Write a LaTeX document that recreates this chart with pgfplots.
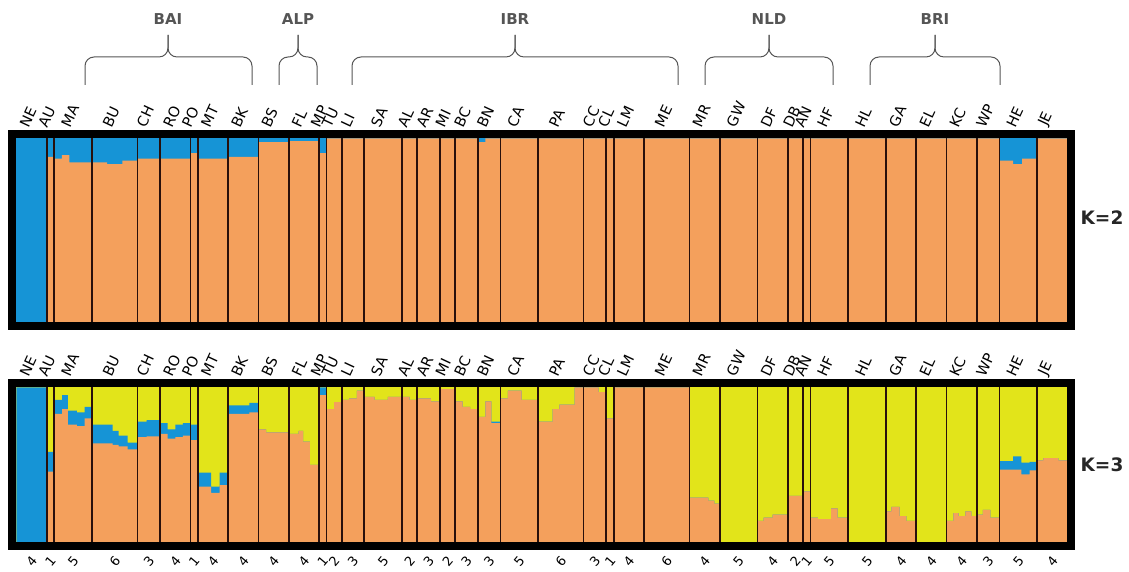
\documentclass[border=0pt]{standalone}
\usepackage{pgfplots}
\pgfplotsset{compat=1.18}
\usepackage{pgfplotstable}
\usepackage{fontspec}
\setmainfont{DejaVu Sans}
\definecolor{cblue}{RGB}{22,148,214}
\definecolor{corange}{RGB}{244,160,92}
\definecolor{cyellow}{RGB}{226,228,26}
\definecolor{csep}{RGB}{40,16,12}
\definecolor{cgray}{RGB}{85,85,85}

% K=2: x = start of segment, o = orange share (blue above)
\pgfplotstableread{
x o
0 0
4 0.90
5 0.89
6 0.91
7 0.87
10 0.87
12 0.86
14 0.88
16 0.89
19 0.89
23 0.92
24 0.89
28 0.90
32 0.98
36 0.985
40 0.92
41 1
61 0.98
62 1
130 0.88
131.8 0.86
133 0.89
135 1
139 1
}\kTwo

% K=3: o = orange top, ob = orange+blue top (yellow above)
\pgfplotstableread{
x o ob
0 0 1
4 0.457 0.585
5 0.83 0.92
6.05 0.86 0.95
6.8 0.76 0.85
8 0.75 0.84
9 0.80 0.875
10 0.64 0.76
12.7 0.63 0.72
13.5 0.62 0.69
14.7 0.60 0.645
16 0.68 0.78
17.2 0.685 0.79
19 0.70 0.77
20 0.67 0.73
21 0.68 0.76
22 0.69 0.77
23 0.66 0.76
24 0.36 0.45
25.75 0.32 0.36
26.85 0.37 0.45
28 0.83 0.885
30.8 0.84 0.90
32 0.73 0.73
33 0.71 0.71
36 0.70 0.70
37.3 0.72 0.72
37.9 0.65 0.65
38.8 0.50 0.50
40 0.95 1
41 0.86 0.86
42 0.905 0.905
43 0.92 0.92
44 0.93 0.93
45 0.98 0.98
46 0.94 0.94
47.35 0.92 0.92
49.1 0.94 0.94
51 0.94 0.94
52 0.92 0.92
53 0.93 0.93
54.8 0.91 0.91
56 0.99 0.99
58 0.91 0.91
59 0.875 0.875
60 0.86 0.86
61 0.81 0.81
62 0.91 0.91
62.8 0.77 0.78
64 0.93 0.93
65 0.98 0.98
66.8 0.92 0.92
69 0.78 0.78
70.9 0.86 0.86
71.8 0.89 0.89
73.8 1 1
75 1 1
77 0.97 0.97
78 0.80 0.80
79 1 1
83 1 1
89 0.29 0.29
91.5 0.27 0.27
92.3 0.25 0.25
93 0 0
98 0.14 0.14
98.8 0.16 0.16
100 0.18 0.18
102 0.30 0.30
104 0.33 0.33
105 0.16 0.16
106 0.15 0.15
107.75 0.22 0.22
108.6 0.16 0.16
110 0 0
115 0.20 0.20
115.7 0.23 0.23
116.8 0.17 0.17
117.7 0.14 0.14
119 0 0
123 0.14 0.14
123.9 0.19 0.19
124.6 0.17 0.17
125.5 0.20 0.20
126.3 0.17 0.17
127 0.18 0.18
127.8 0.21 0.21
128.8 0.16 0.16
130 0.47 0.525
131.8 0.47 0.555
132.9 0.44 0.515
134 0.465 0.52
135 0.53 0.53
135.8 0.545 0.545
137.8 0.53 0.53
139 0.53 0.53
}\kThree

\def\popticks{2,4.5,7.5,13,17.5,21,23.5,26,30,34,38,40.5,42,44.5,48.5,52,54.5,57,59.5,62.5,66.5,72,76.5,78.5,81,86,91,95.5,100,103,104.5,107.5,112.5,117,121,125,128.5,132.5,137}
\def\popnames{NE,AU,MA,BU,CH,RO,PO,MT,BK,BS,FL,MP,TU,LI,SA,AL,AR,MI,BC,BN,CA,PA,CC,CL,LM,ME,MR,GW,DF,DB,AN,HF,HL,GA,EL,KC,WP,HE,JE}
\def\sepcoords{(4,1.1) (5,1.1) (10,1.1) (16,1.1) (19,1.1) (23,1.1) (24,1.1) (28,1.1) (32,1.1) (36,1.1) (40,1.1) (41,1.1) (43,1.1) (46,1.1) (51,1.1) (53,1.1) (56,1.1) (58,1.1) (61,1.1) (64,1.1) (69,1.1) (75,1.1) (78,1.1) (79,1.1) (83,1.1) (89,1.1) (93,1.1) (98,1.1) (102,1.1) (104,1.1) (105,1.1) (110,1.1) (115,1.1) (119,1.1) (123,1.1) (127,1.1) (130,1.1) (135,1.1)}

\pgfplotsset{
  structure/.style={
    scale only axis, width=1059pt,
    xmin=-0.529, xmax=139.529,
    axis line style={line width=8pt},
    axis on top,
    major tick length=0pt,
    ytick=\empty,
    xtick/.expanded={\popticks},
    clip=true,
  },
  names/.style={
    xticklabels/.expanded={\popnames},
    xticklabel pos=upper,
    xticklabel style={font=\fontsize{14.5}{14.5}\selectfont, inner sep=0pt, xshift=-3pt, yshift=6pt, anchor=south west, rotate=65},
  },
}

\begin{document}
\begin{tikzpicture}[x=1pt,y=1pt]
\useasboundingbox (0,0) rectangle (1129,572);

% K=2 panel
\begin{axis}[structure, names, at={(12.5pt,245.5pt)}, anchor=south west,
  height=192pt, ymin=-0.0217, ymax=1.0217]
  \addplot[fill=cblue, draw=none] coordinates {(0,1) (139,1)} \closedcycle;
  \addplot[const plot, fill=corange, draw=none] table[x=x,y=o]{\kTwo} \closedcycle;
  \addplot[ycomb, csep, line width=1.8pt, mark=none] coordinates {\sepcoords};
\end{axis}

% K=3 panel
\begin{axis}[structure, names, at={(12.5pt,25.5pt)}, anchor=south west,
  height=163pt, ymin=-0.0258, ymax=1.0258]
  \addplot[fill=cyellow, draw=none] coordinates {(0,1) (139,1)} \closedcycle;
  \addplot[const plot, fill=cblue, draw=none] table[x=x,y=ob]{\kThree} \closedcycle;
  \addplot[const plot, fill=corange, draw=none] table[x=x,y=o]{\kThree} \closedcycle;
  \addplot[ycomb, csep, line width=1.8pt, mark=none] coordinates {\sepcoords};
\end{axis}

% sample sizes
\begin{axis}[structure, at={(12.5pt,25.5pt)}, anchor=south west,
  height=163pt, ymin=0, ymax=1, axis line style={draw=none},
  xticklabels={4,1,5,6,3,4,1,4,4,4,4,1,2,3,5,2,3,2,3,3,5,6,3,1,4,6,4,5,4,2,1,5,5,4,4,4,3,5,4},
  xticklabel pos=lower,
  xticklabel style={font=\fontsize{13}{13}\selectfont, inner sep=0pt, yshift=-14.5pt, anchor=center, rotate=50}]
  \addplot[draw=none] coordinates {(0,0.5)};
\end{axis}

% group braces
\begin{scope}[cgray, line width=1pt, rounded corners=9pt]
  \foreach \a/\m/\b in {85/168/252, 279/298/317, 352/515/678, 705/769/833, 870/935/1000}{
    \draw (\a,487) -- (\a,515) -- (\m,515) -- (\m,537);
    \draw (\b,487) -- (\b,515) -- (\m,515) -- (\m,537);
  }
\end{scope}
\foreach \m/\t in {168/BAI, 298/ALP, 515/IBR, 769/NLD, 935/BRI}{
  \node[cgray, font=\bfseries\fontsize{15}{15}\selectfont] at (\m,553) {\t};
}

\node[font=\bfseries\fontsize{18.5}{18.5}\selectfont, color=black!85] at (1102,354) {K=2};
\node[font=\bfseries\fontsize{18.5}{18.5}\selectfont, color=black!85] at (1102,107) {K=3};
\end{tikzpicture}
\end{document}
